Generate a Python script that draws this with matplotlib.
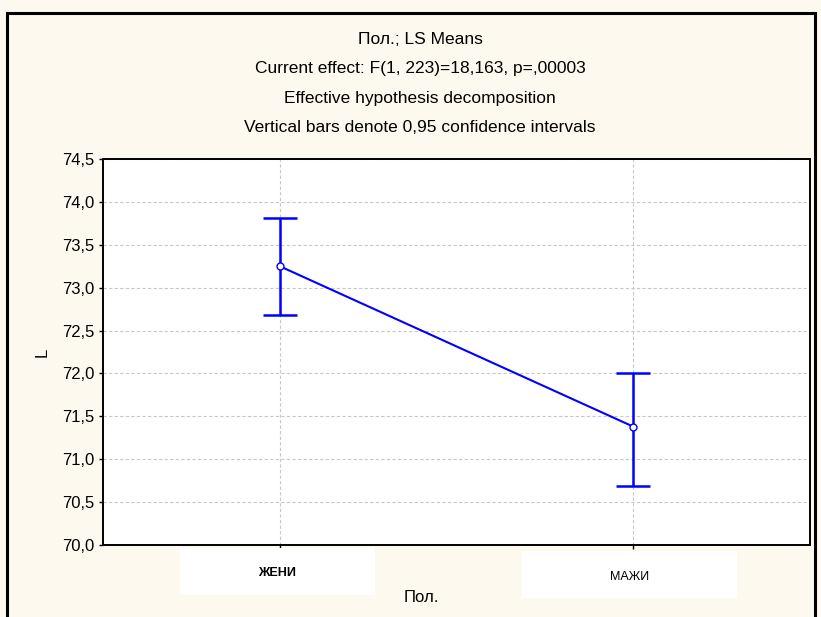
import matplotlib
matplotlib.use("Agg")
import matplotlib.pyplot as plt
from matplotlib.patches import Rectangle

groups = ["ЖЕНИ", "МАЖИ"]
means = [73.25, 71.38]
ci_low = [72.68, 70.69]
ci_high = [73.81, 72.01]
yticks = [70.0, 70.5, 71.0, 71.5, 72.0, 72.5, 73.0, 73.5, 74.0, 74.5]
title_lines = [
    "Пол.; LS Means",
    "Current effect: F(1, 223)=18,163, p=,00003",
    "Effective hypothesis decomposition",
    "Vertical bars denote 0,95 confidence intervals",
]

plt.rcParams["font.family"] = ["Liberation Sans", "DejaVu Sans"]
bg = "#fef9ef"

fig = plt.figure(figsize=(8.21, 6.17), dpi=100, facecolor=bg)
# outer frame
fig.patches.append(Rectangle((7 / 821, -0.05), 808 / 821, 1.05 - 13 / 617,
                             transform=fig.transFigure, fill=False,
                             edgecolor="black", linewidth=2.2))

ax = fig.add_axes([103 / 821, 72 / 617, 707 / 821, 386 / 617])
ax.set_facecolor("white")

x = list(range(len(groups)))
yerr = [[m - lo for m, lo in zip(means, ci_low)],
        [hi - m for m, hi in zip(means, ci_high)]]
ax.errorbar(x, means, yerr=yerr, fmt="none", ecolor="#0000ff",
            elinewidth=1.8, capsize=12.5, capthick=1.8, zorder=3)
ax.plot(x, means, color="#0000ff", linewidth=1.5, marker="o",
        markersize=5, markerfacecolor="white", markeredgecolor="#0000ff",
        markeredgewidth=1.0, zorder=4)

ax.set_xlim(-0.5, 1.5)
ax.set_ylim(70.0, 74.5)
ax.set_yticks(yticks)
ax.set_yticklabels([f"{v:.1f}".replace(".", ",") for v in yticks], fontsize=12)
ax.set_xticks(x)
ax.set_xticklabels([])
ax.grid(True, color="#c8c8c8", linestyle=(0, (3, 2)), linewidth=0.8)
ax.set_axisbelow(True)
for s in ax.spines.values():
    s.set_linewidth(1.4)
ax.tick_params(axis="both", direction="out", length=3, width=1, pad=3)

ax.set_ylabel("L", fontsize=12, labelpad=9)

# white label boxes under the x axis
box_specs = [(180, 548, 195, 47, "bold"), (522, 551, 215, 47, "normal")]
for (bx, by, bw, bh, wt), name in zip(box_specs, groups):
    fig.patches.append(Rectangle((bx / 821, 1 - (by + bh) / 617), bw / 821, bh / 617,
                                 transform=fig.transFigure, facecolor="white",
                                 edgecolor="none"))
    fig.text((bx + bw / 2) / 821, 1 - (by + bh / 2 + 2) / 617, name,
             ha="center", va="center", fontsize=9, fontweight=wt)

fig.text(421 / 821, 1 - 598 / 617, "Пол.", ha="center", va="center", fontsize=12)

for i, line in enumerate(title_lines):
    fig.text(420 / 821, 1 - (40 + 29 * i) / 617, line, ha="center",
             va="center", fontsize=12.5)

fig.savefig("out.png", dpi=100, facecolor=bg)
